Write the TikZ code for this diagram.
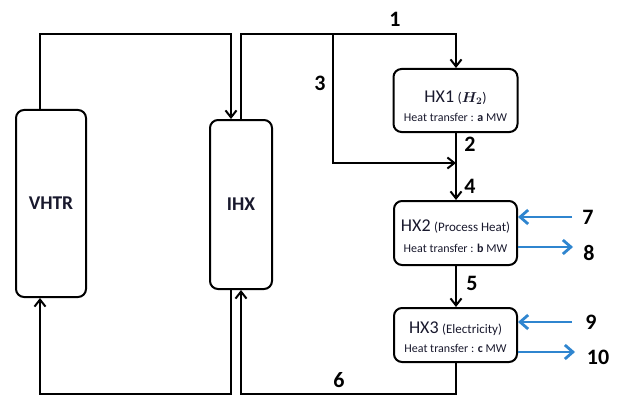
\documentclass[tikz,border=0pt]{standalone}
\usepackage{fontspec}
\setmainfont{Carlito}
\usetikzlibrary{arrows.meta}
\definecolor{flowblue}{RGB}{47,133,207}
\definecolor{txt}{RGB}{25,25,45}
\tikzset{
  unit/.style={draw=black, line width=2pt, rounded corners=8pt, inner sep=0pt},
  flow/.style={draw=black, line width=2pt, -{Straight Barb[length=7pt,width=11pt]}},
  bflow/.style={draw=flowblue, line width=2.8pt, -{Straight Barb[length=8pt,width=14pt]}},
  num/.style={font=\fontsize{22}{24}\selectfont\bfseries, inner sep=0pt},
  big/.style={font=\fontsize{19.5}{22}\selectfont\bfseries, text=txt}
}
\newcommand{\hxhead}[2]{{\fontsize{18}{20}\selectfont #1}\hspace{0.35em}{\fontsize{13}{14}\selectfont #2}}
\newcommand{\hxsub}[1]{{\fontsize{12}{14}\selectfont Heat transfer : \textbf{#1} MW}}
\begin{document}
\begin{tikzpicture}[x=1pt,y=-1pt]
\useasboundingbox (0,0) rectangle (619,396);
% units
\node[unit, minimum width=70pt, minimum height=187pt, big] (vhtr) at (51,203.5) {VHTR};
\node[unit, minimum width=62pt, minimum height=169pt, big] (ihx) at (241,204.5) {IHX};
\node[unit, minimum width=124pt, minimum height=63pt] (hx1) at (455.5,100.5) {};
\node[unit, minimum width=123pt, minimum height=64pt] (hx2) at (455.5,233) {};
\node[unit, minimum width=123pt, minimum height=54pt] (hx3) at (455.5,335) {};
% box texts
\node[text=txt, inner sep=0pt] (t1a) at (455.5,98) {\hxhead{HX1}{\fontsize{14}{16}\selectfont\mathversion{bold}($H_2$)}};
\node[text=txt, inner sep=0pt] (t1b) at (455.5,117) {\hxsub{a}};
\node[text=txt, inner sep=0pt] (t2a) at (455.5,227) {\hxhead{HX2}{(Process Heat)}};
\node[text=txt, inner sep=0pt] (t2b) at (455.5,248) {\hxsub{b}};
\node[text=txt, inner sep=0pt] (t3a) at (455.5,329) {\hxhead{HX3}{(Electricity)}};
\node[text=txt, inner sep=0pt] (t3b) at (455.5,348) {\hxsub{c}};
% routing coordinates
\coordinate (xa) at (40,0);
\coordinate (xb) at (231,0);
\coordinate (xc) at (241,0);
\coordinate (xh) at (456,0);
\coordinate (xs) at (333,0);
\coordinate (ytop) at (0,34);
\coordinate (ybot) at (0,394);
\coordinate (yj) at (0,163);
% black flows
\draw[flow] (vhtr.north -| xa) -- (xa |- ytop) -- (xb |- ytop) -- (ihx.north -| xb);
\draw[flow] (ihx.north -| xc) -- (xc |- ytop) -- (xh |- ytop) -- (hx1.north -| xh);
\draw[flow] (xs |- ytop) -- (xs |- yj) -- (xh |- yj);
\draw[flow] (hx1.south -| xh) -- (hx2.north -| xh);
\draw[flow] (hx2.south -| xh) -- (hx3.north -| xh);
\draw[flow] (hx3.south -| xh) -- (xh |- ybot) -- (xc |- ybot) -- (ihx.south -| xc);
\draw[flow] (ihx.south -| xb) -- (xb |- ybot) -- (xa |- ybot) -- (vhtr.south -| xa);
% blue flows
\coordinate (s7) at (572,217);
\coordinate (e8) at (573,247);
\coordinate (s9) at (572,322);
\coordinate (e10) at (575,352);
\draw[bflow] (s7) -- (hx2.east |- s7);
\draw[bflow] (hx2.east |- e8) -- (e8);
\draw[bflow] (s9) -- (hx3.east |- s9);
\draw[bflow] (hx3.east |- e10) -- (e10);
% numbers
\node[num] (n1) at (395,19) {1};
\node[num] (n2) at (470,144) {2};
\node[num] (n3) at (320,83) {3};
\node[num] (n4) at (470,186) {4};
\node[num] (n5) at (472,283) {5};
\node[num] (n6) at (339,380) {6};
\node[num] (n7) at (588,217) {7};
\node[num] (n8) at (589,253) {8};
\node[num] (n9) at (591,322) {9};
\node[num] (n10) at (598,357) {10};
\end{tikzpicture}
\end{document}
